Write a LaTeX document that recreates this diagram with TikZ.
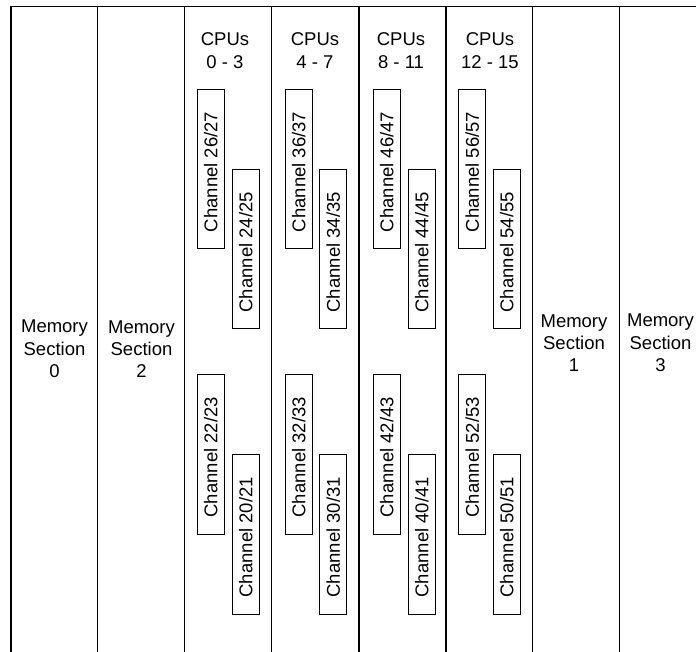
\documentclass[tikz,border=0pt]{standalone}
\usepackage{fontspec}
\setmainfont{Liberation Sans}
\begin{document}
\begin{tikzpicture}[x=1pt,y=-1pt,
  lbl/.style={align=center,inner sep=0pt,font=\fontsize{18.5}{22.3}\selectfont},
  chan/.style={draw,line width=1pt,rotate=90,minimum width=159.5pt,minimum height=27pt,inner sep=0pt,
    font=\fontsize{18.5}{22.3}\selectfont,execute at end node={\hspace*{6pt}}},
  col/.style={line width=1.1pt}]
\useasboundingbox (0,0) rectangle (696,652);
% frame
\coordinate (t0) at (11,6.3);
\coordinate (tr) at (696,6.3);
\draw[col] (t0) -- (tr);
\foreach \x [count=\i] in {11,97.8,184.5,271.5,359,446,532.5,619.5}{
  \coordinate (ct\i) at (\x,6.3);
  \coordinate (cb\i) at (\x,653);
  \draw[col] (ct\i) -- (cb\i);
}
% memory labels
\node[lbl] (m0) at (54.5,349) {Memory\\Section\\0};
\node[lbl] (m2) at (141.5,349) {Memory\\Section\\2};
\node[lbl] (m1) at (574,343) {Memory\\Section\\1};
\node[lbl] (m3) at (660.5,343) {Memory\\Section\\3};
% CPU labels
\node[lbl] (c0) at (225,50.5) {CPUs\\0 - 3};
\node[lbl] (c1) at (315,50.5) {CPUs\\4 - 7};
\node[lbl] (c2) at (401,50.5) {CPUs\\8 - 11};
\node[lbl] (c3) at (490,50.5) {CPUs\\12 - 15};
% channels
\node[chan] (ch2627) at (210.8,169) {Channel 26/27};
\node[chan] (ch2425) at (245.8,249.2) {Channel 24/25};
\node[chan] (ch2223) at (210.8,454.3) {Channel 22/23};
\node[chan] (ch2021) at (245.8,534.3) {Channel 20/21};
\node[chan] (ch3637) at (298.8,169) {Channel 36/37};
\node[chan] (ch3435) at (333.3,249.2) {Channel 34/35};
\node[chan] (ch3233) at (298.8,454.3) {Channel 32/33};
\node[chan] (ch3031) at (333.3,534.3) {Channel 30/31};
\node[chan] (ch4647) at (386.8,169) {Channel 46/47};
\node[chan] (ch4445) at (421.8,249.2) {Channel 44/45};
\node[chan] (ch4243) at (386.8,454.3) {Channel 42/43};
\node[chan] (ch4041) at (421.8,534.3) {Channel 40/41};
\node[chan] (ch5657) at (472.3,169) {Channel 56/57};
\node[chan] (ch5455) at (506.8,249.2) {Channel 54/55};
\node[chan] (ch5253) at (472.3,454.3) {Channel 52/53};
\node[chan] (ch5051) at (506.8,534.3) {Channel 50/51};
\end{tikzpicture}
\end{document}
